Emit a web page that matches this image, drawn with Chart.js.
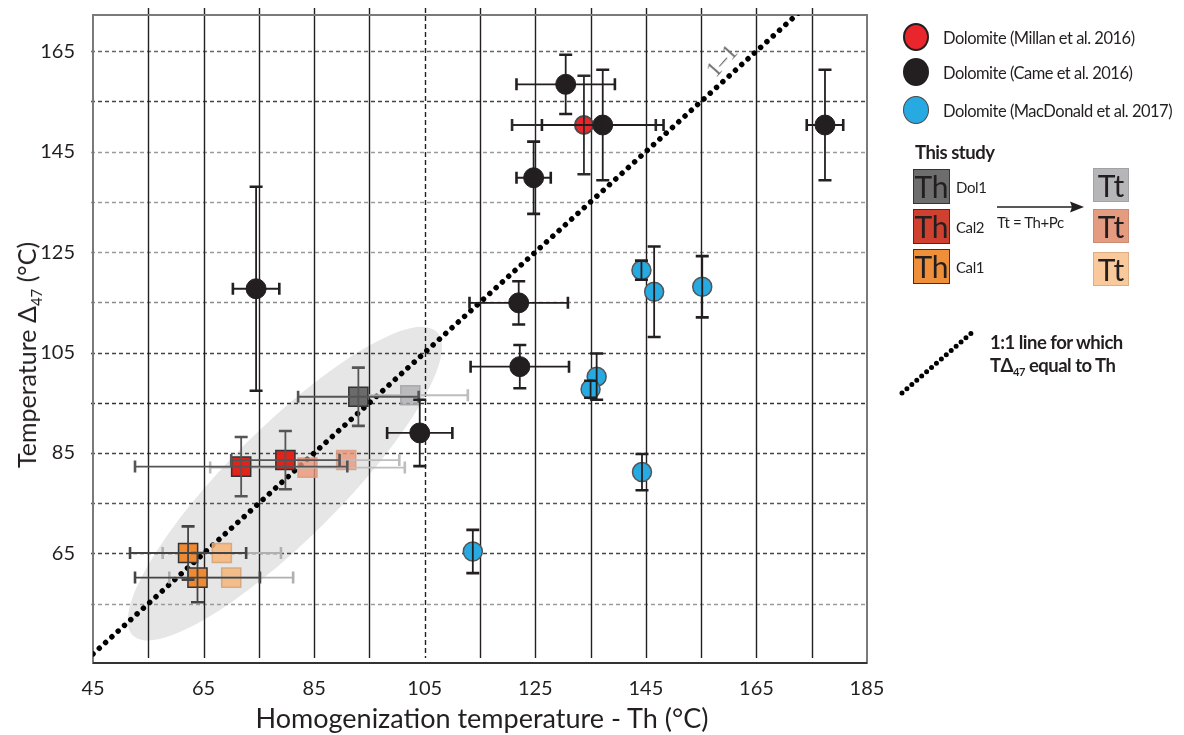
<!DOCTYPE html>
<html lang="en">
<head>
<meta charset="UTF-8" />
<title>Temperature Δ47 vs homogenization temperature</title>
<script src="https://cdn.jsdelivr.net/npm/chart.js"></script>
<style>
  body { margin: 0; background: #fff; font-family: Lato, "Open Sans", sans-serif; color: #231f20; }
  #wrap { position: relative; width: 1184px; height: 735px; overflow: hidden; }
  #plot { position: absolute; left: 0; top: 0; }
  .abs { position: absolute; white-space: nowrap; }
  .lg { font-size: 16.5px; letter-spacing: -0.5px; transform: translateY(-50%); }
  .dot { position: absolute; width: 26px; height: 28px; border-radius: 50%; box-sizing: border-box; }
  .box { position: absolute; width: 37px; height: 35px; box-sizing: border-box; font-size: 30px; line-height: 33px; text-align: center; color: #231f20; }
  .small { font-size: 15px; letter-spacing: -0.4px; transform: translateY(-50%); }
  .note { font-size: 18.5px; font-weight: bold; letter-spacing: -0.5px; transform: translateY(-50%); }
  sub { font-size: 0.6em; }
</style>
</head>
<body>
<div id="wrap">
  <canvas id="plot" width="1184" height="735"></canvas>

  <!-- axis titles -->
  <div class="abs" style="left:28px;top:355px;font-size:25px;transform:translate(-50%,-50%) rotate(-90deg);">Temperature Δ<sub>47</sub> (°C)</div>
  <div class="abs" style="left:482px;top:717px;font-size:27px;transform:translate(-50%,-50%);">Homogenization temperature - Th (°C)</div>
  <div class="abs" style="left:722px;top:61px;font-family:'Liberation Serif',serif;font-size:23px;color:#707070;transform:translate(-50%,-50%) rotate(-48deg);">1–1</div>

  <!-- legend -->
  <div class="dot" style="left:903px;top:23px;background:#e8262b;border:2.5px solid #231f20;"></div>
  <div class="abs lg" style="left:943px;top:38px;">Dolomite (Millan et al. 2016)</div>
  <div class="dot" style="left:903px;top:58px;background:#231f20;"></div>
  <div class="abs lg" style="left:943px;top:73px;">Dolomite (Came et al. 2016)</div>
  <div class="dot" style="left:903px;top:96px;background:#27a9e1;border:1.5px solid #4a4a4a;"></div>
  <div class="abs lg" style="left:943px;top:111px;">Dolomite (MacDonald et al. 2017)</div>

  <div class="abs note" style="left:915px;top:152px;">This study</div>
  <div class="box" style="left:913px;top:169px;background:#6d6d6d;border:1.5px solid #333;">Th</div>
  <div class="box" style="left:913px;top:209px;background:#d0402e;border:1.5px solid #333;">Th</div>
  <div class="box" style="left:913px;top:249px;background:#ef8f3a;border:1.5px solid #333;">Th</div>
  <div class="abs small" style="left:956px;top:187px;">Dol1</div>
  <div class="abs small" style="left:956px;top:227px;">Cal2</div>
  <div class="abs small" style="left:956px;top:267px;">Cal1</div>
  <svg class="abs" style="left:990px;top:198px;" width="100" height="20">
    <line x1="7" y1="9" x2="84" y2="9" stroke="#231f20" stroke-width="1.6" />
    <polygon points="94,9 80,3.5 82,9 80,14.5" fill="#231f20" />
  </svg>
  <div class="abs small" style="left:997px;top:222px;">Tt = Th+Pc</div>
  <div class="box" style="left:1093px;top:168px;width:36px;height:34px;background:#b6b6b9;border:1.5px solid #a2a2a6;">Tt</div>
  <div class="box" style="left:1093px;top:209px;width:36px;height:34px;background:#e59b80;border:1.5px solid #c98b75;">Tt</div>
  <div class="box" style="left:1093px;top:252px;width:36px;height:34px;background:#f9c99b;border:1.5px solid #dcae84;">Tt</div>

  <svg class="abs" style="left:895px;top:322px;" width="90" height="80">
    <line x1="7" y1="71" x2="80" y2="8" stroke="#000" stroke-width="5" stroke-dasharray="0 6.5" stroke-linecap="round" />
  </svg>
  <div class="abs note" style="left:990px;top:342px;">1:1 line for which</div>
  <div class="abs note" style="left:990px;top:366px;">TΔ<sub>47</sub> equal to Th</div>
</div>

<script>
  // axes
  const xTickLabels = [45, 65, 85, 105, 125, 145, 165, 185];
  const yTickLabels = [65, 85, 105, 125, 145, 165];
  const vGrid = [55, 65, 75, 85, 95, 105, 115, 125, 135, 145, 155, 165, 175];
  const hGrid = [55, 65, 75, 85, 95, 105, 115, 125, 135, 145, 155, 165];

  // Dolomite (Came et al. 2016)
  const cameX = [130.5, 137.2, 124.7, 177.4, 74.5, 122.0, 122.2, 104.1];
  const cameY = [158.4, 150.3, 139.8, 150.3, 117.7, 114.9, 102.2, 89.0];
  const cameXErr = [8.9, 11, 3.1, 3.3, 4.2, 8.9, 8.9, 5.9];
  const cameYErr = [5.9, 11, 7.2, 11, 20.3, 4.3, 4.3, 6.6];

  // Dolomite (Millan et al. 2016)
  const millanX = [133.8];
  const millanY = [150.3];
  const millanXErr = [13];
  const millanYErr = [9.8];

  // Dolomite (MacDonald et al. 2017)
  const macX = [144.2, 146.5, 155.2, 136.1, 135.0, 144.3, 113.7];
  const macY = [121.4, 117.1, 118.1, 100.2, 97.7, 81.2, 65.4];
  const macYErr = [1.9, 9, 6.1, 4.6, 1.7, 3.6, 4.3];

  // This study: Th
  const dol1ThX = [93.0], dol1ThY = [96.2], dol1ThXErr = [10.9], dol1ThYErr = [5.8];
  const cal2ThX = [71.8, 79.8], cal2ThY = [82.3, 83.6], cal2ThXErr = [19.2, 9.8], cal2ThYErr = [5.9, 5.8];
  const cal1ThX = [62.2, 63.9], cal1ThY = [65.1, 60.2], cal1ThXErr = [10.5, 11.3], cal1ThYErr = [5.3, 4.9];

  // This study: Tt = Th + Pc
  const dol1TtX = [102.4], dol1TtY = [96.5], dol1TtXErr = [10.4];
  const cal2TtX = [83.8, 90.8], cal2TtY = [82.1, 83.6], cal2TtXErr = [17.6, 9.6];
  const cal1TtX = [68.3, 70.0], cal1TtY = [65.1, 60.2], cal1TtXErr = [10.7, 11.2];

  // 1:1 line ends
  const oneToOne = [45, 173];

  // grey cluster ellipse (data coords of centre and one end of the long axis)
  const ellipseCenter = [79.7, 78.9];
  const ellipseTip = [107.2, 109.1];

  const pts = (xs, ys) => xs.map((v, i) => ({ x: v, y: ys[i] }));

  const hColor = { 55: '#9a9a9a', 65: '#444', 75: '#555', 85: '#444', 95: '#333', 105: '#444',
                   115: '#8a8a8a', 125: '#9a9a9a', 135: '#9a9a9a', 145: '#9a9a9a', 155: '#444', 165: '#666' };

  const decor = {
    id: 'decor',
    beforeDatasetsDraw(chart) {
      const { ctx, chartArea: a, scales: { x, y } } = chart;
      ctx.save();
      // cluster ellipse
      const cx = x.getPixelForValue(ellipseCenter[0]), cy = y.getPixelForValue(ellipseCenter[1]);
      const tx = x.getPixelForValue(ellipseTip[0]), ty = y.getPixelForValue(ellipseTip[1]);
      ctx.fillStyle = '#e6e6e6';
      ctx.beginPath();
      ctx.ellipse(cx, cy, Math.hypot(tx - cx, ty - cy), 56, Math.atan2(ty - cy, tx - cx), 0, Math.PI * 2);
      ctx.fill();
      // horizontal dashed grid
      ctx.lineWidth = 1.4;
      ctx.setLineDash([4, 3]);
      hGrid.forEach(v => {
        const py = Math.round(y.getPixelForValue(v)) + 0.5;
        ctx.strokeStyle = hColor[v];
        ctx.beginPath(); ctx.moveTo(a.left - 2, py); ctx.lineTo(a.right, py); ctx.stroke();
      });
      // vertical grid
      ctx.strokeStyle = '#231f20';
      ctx.lineWidth = 1.4;
      vGrid.forEach(v => {
        const px = Math.round(x.getPixelForValue(v)) + 0.5;
        ctx.setLineDash(v === 105 ? [5, 3] : []);
        ctx.beginPath(); ctx.moveTo(px, a.top - 7); ctx.lineTo(px, a.bottom - 5); ctx.stroke();
      });
      ctx.setLineDash([]);
      // frame
      ctx.strokeStyle = '#7a7a7a';
      ctx.lineWidth = 2;
      ctx.strokeRect(a.left, a.top, a.right - a.left, a.bottom - a.top);
      ctx.strokeStyle = '#333';
      ctx.beginPath(); ctx.moveTo(a.left, a.bottom); ctx.lineTo(a.right, a.bottom); ctx.stroke();
      ctx.restore();
    },
    afterDatasetDraw(chart, args) {
      const ds = chart.data.datasets[args.index];
      if (!ds.errX && !ds.errY) return;
      const { ctx, scales: { x, y } } = chart;
      ctx.save();
      ctx.strokeStyle = ds.errColor || '#231f20';
      ds.data.forEach((p, i) => {
        const px = x.getPixelForValue(p.x), py = y.getPixelForValue(p.y);
        if (ds.errX && ds.errX[i]) {
          const l = x.getPixelForValue(p.x - ds.errX[i]), r = x.getPixelForValue(p.x + ds.errX[i]);
          ctx.lineWidth = 1.8;
          ctx.beginPath(); ctx.moveTo(l, py); ctx.lineTo(r, py); ctx.stroke();
          ctx.lineWidth = 2.6;
          ctx.beginPath();
          ctx.moveTo(l, py - 6); ctx.lineTo(l, py + 6);
          ctx.moveTo(r, py - 6); ctx.lineTo(r, py + 6);
          ctx.stroke();
        }
        if (ds.errY && ds.errY[i]) {
          const t = y.getPixelForValue(p.y + ds.errY[i]), b = y.getPixelForValue(p.y - ds.errY[i]);
          ctx.lineWidth = 1.8;
          ctx.beginPath(); ctx.moveTo(px, t); ctx.lineTo(px, b); ctx.stroke();
          ctx.lineWidth = 2.6;
          ctx.beginPath();
          ctx.moveTo(px - 6.5, t); ctx.lineTo(px + 6.5, t);
          ctx.moveTo(px - 6.5, b); ctx.lineTo(px + 6.5, b);
          ctx.stroke();
        }
      });
      ctx.restore();
    }
  };

  const sq = 13.5;
  const datasets = [
    { label: 'Came', data: pts(cameX, cameY), pointRadius: 10, backgroundColor: '#231f20', borderColor: '#231f20',
      errX: cameXErr, errY: cameYErr, errColor: '#231f20' },
    { label: 'Millan', data: pts(millanX, millanY), pointRadius: 9, backgroundColor: '#e8262b', borderColor: '#4a4a4a', borderWidth: 2,
      errX: millanXErr, errY: millanYErr, errColor: '#2b2b2b' },
    { label: 'MacDonald', data: pts(macX, macY), pointRadius: 9.5, backgroundColor: '#27a9e1', borderColor: '#555', borderWidth: 1.5,
      errY: macYErr, errColor: '#231f20' },
    { label: 'Dol1 Th', data: pts(dol1ThX, dol1ThY), pointStyle: 'rect', pointRadius: sq, backgroundColor: '#6b6b6b', borderColor: '#333', borderWidth: 1.5,
      errX: dol1ThXErr, errY: dol1ThYErr, errColor: '#555' },
    { label: 'Cal2 Th', data: pts(cal2ThX, cal2ThY), pointStyle: 'rect', pointRadius: sq, backgroundColor: '#e2231a', borderColor: '#333', borderWidth: 1.5,
      errX: cal2ThXErr, errY: cal2ThYErr, errColor: '#555' },
    { label: 'Cal1 Th', data: pts(cal1ThX, cal1ThY), pointStyle: 'rect', pointRadius: sq, backgroundColor: '#ef8a34', borderColor: '#333', borderWidth: 1.5,
      errX: cal1ThXErr, errY: cal1ThYErr, errColor: '#444' },
    { label: 'Dol1 Tt', data: pts(dol1TtX, dol1TtY), pointStyle: 'rect', pointRadius: sq, backgroundColor: 'rgba(175,175,180,0.8)', borderColor: 'rgba(160,160,165,0.8)', borderWidth: 1.5,
      errX: dol1TtXErr, errColor: '#bdbdbd' },
    { label: 'Cal2 Tt', data: pts(cal2TtX, cal2TtY), pointStyle: 'rect', pointRadius: sq, backgroundColor: 'rgba(236,150,120,0.8)', borderColor: 'rgba(220,150,125,0.8)', borderWidth: 1.5,
      errX: cal2TtXErr, errColor: '#bdbdbd' },
    { label: 'Cal1 Tt', data: pts(cal1TtX, cal1TtY), pointStyle: 'rect', pointRadius: sq, backgroundColor: 'rgba(245,180,120,0.85)', borderColor: 'rgba(215,165,120,0.9)', borderWidth: 1.5,
      errX: cal1TtXErr, errColor: '#b0b0b0' },
    { label: '1:1', data: pts(oneToOne, oneToOne), showLine: true, pointRadius: 0, borderColor: '#000', borderWidth: 5.5,
      borderDash: [0.01, 8.5], borderCapStyle: 'round' }
  ];

  new Chart(document.getElementById('plot'), {
    type: 'scatter',
    data: { datasets },
    options: {
      responsive: false,
      animation: false,
      devicePixelRatio: 1,
      layout: { padding: { top: 13, right: 317, bottom: 0, left: 0 } },
      plugins: { legend: { display: false }, tooltip: { enabled: false } },
      scales: {
        x: {
          type: 'linear', min: 45, max: 185,
          afterBuildTicks: s => { s.ticks = xTickLabels.map(v => ({ value: v })); },
          afterFit: s => { s.height = 72; s.paddingLeft = 0; s.paddingRight = 0; },
          grid: { display: false }, border: { display: false },
          ticks: { color: '#231f20', padding: 6, font: { family: 'Lato', size: 20 }, maxRotation: 0 }
        },
        y: {
          type: 'linear', min: 43.2, max: 172.2,
          afterBuildTicks: s => { s.ticks = yTickLabels.map(v => ({ value: v })); },
          afterFit: s => { s.width = 93; s.paddingTop = 0; s.paddingBottom = 0; },
          grid: { display: false }, border: { display: false },
          ticks: { color: '#231f20', padding: 10, font: { family: 'Lato', size: 20 } }
        }
      }
    },
    plugins: [decor]
  });
</script>
</body>
</html>
